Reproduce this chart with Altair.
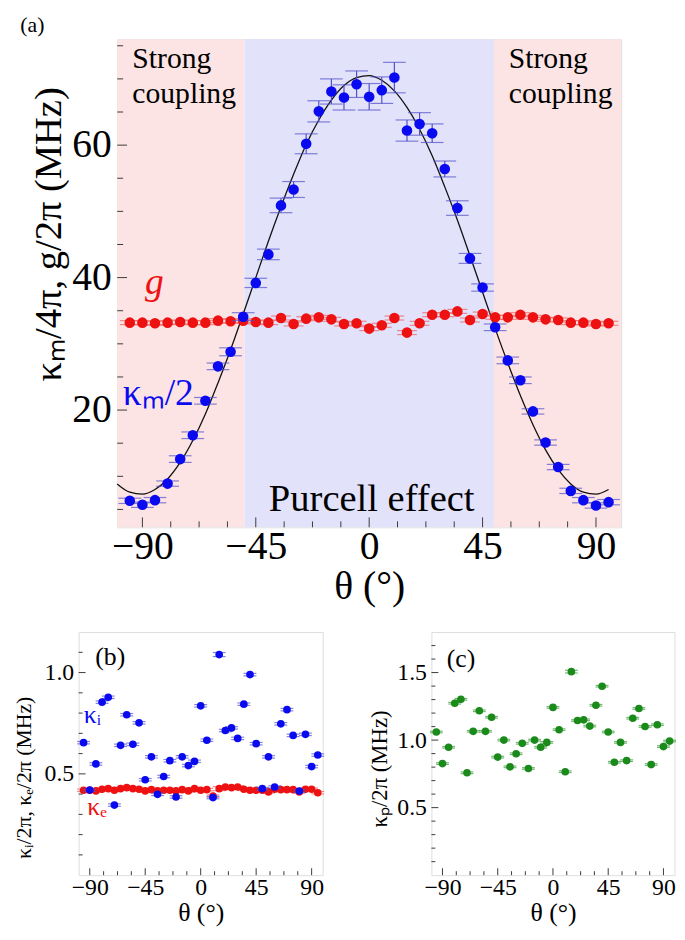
import altair as alt
import pandas as pd

FONT = "Liberation Serif"
FRAME = "#3a3a3a"

# ---------------- panel (a) data ----------------
theta = [-95, -90, -85, -80, -75, -70, -65, -60, -55, -50, -45, -40, -35, -30, -25, -20, -15, -10, -5, 0,
         5, 10, 15, 20, 25, 30, 35, 40, 45, 50, 55, 60, 65, 70, 75, 80, 85, 90, 95]
km_half = [6.3, 5.7, 6.4, 8.9, 12.6, 16.2, 21.4, 26.6, 28.8, 34.1, 39.2, 43.5, 50.9, 53.3, 60.2, 65.1, 68.1, 67.2, 69.2, 67.3,
           68.3, 70.2, 62.2, 63.2, 61.8, 56.4, 50.5, 42.9, 38.5, 32.5, 27.5, 24.5, 19.8, 15.1, 11.4, 7.8, 6.4, 5.6, 6.1]
km_err = [0.4, 0.4, 0.4, 0.4, 0.5, 0.5, 0.5, 0.5, 0.6, 0.6, 0.7, 0.8, 1.1, 1.2, 1.5, 1.6, 1.9, 1.9, 2.0, 2.0,
          2.0, 2.3, 1.6, 1.7, 1.4, 1.2, 1.1, 0.75, 0.55, 0.5, 0.5, 0.5, 0.4, 0.4, 0.4, 0.4, 0.4, 0.4, 0.4]
g_vals = [33.2, 33.2, 33.1, 33.2, 33.3, 33.2, 33.2, 33.5, 33.4, 33.5, 33.3, 33.2, 33.9, 33.0, 33.8, 34.0, 33.7, 33.0, 33.1, 32.3,
          32.8, 33.9, 31.7, 33.1, 34.4, 34.4, 34.9, 33.6, 34.5, 34.0, 34.0, 34.4, 34.0, 33.7, 33.6, 33.2, 33.2, 33.0, 33.1]
g_err = [0.3, 0.3, 0.3, 0.3, 0.3, 0.3, 0.3, 0.3, 0.3, 0.3, 0.3, 0.3, 0.3, 0.3, 0.3, 0.3, 0.3, 0.3, 0.3, 0.3,
         0.3, 0.3, 0.3, 0.3, 0.3, 0.3, 0.3, 0.3, 0.3, 0.3, 0.3, 0.3, 0.3, 0.3, 0.3, 0.3, 0.3, 0.3, 0.3]
fit_theta = [-100, -95, -90, -85, -80, -75, -70, -65, -60, -55, -50, -45, -40, -35, -30, -25, -20, -15, -10, -5,
             0, 5, 10, 15, 20, 25, 30, 35, 40, 45, 50, 55, 60, 65, 70, 75, 80, 85, 90, 95]
fit_vals = [8.85, 7.6, 7.3, 8.0, 9.6, 12.1, 15.4, 19.4, 24.1, 29.1, 34.5, 40.0, 45.5, 50.7, 55.6, 60.1, 63.8, 66.8, 69.0, 70.2,
            70.5, 69.8, 68.2, 65.7, 62.4, 58.4, 53.7, 48.7, 43.3, 37.8, 32.3, 27.1, 22.2, 17.8, 14.0, 11.0, 8.85, 7.6, 7.3, 8.0]
region_start = [-100, -49.5, 49.5]
region_end = [-49.5, 49.5, 100]
region_kind = ["strong", "purcell", "strong"]

# ---------------- panels (b), (c) data ----------------
kappa_i = [0.654, 0.42, 0.549, 0.854, 0.878, 0.346, 0.641, 0.792, 0.646, 0.752, 0.471, 0.584, 0.399, 0.487, 0.565, 0.386, 0.584, 0.541, 0.562, 0.836,
           0.666, 0.383, 1.089, 0.714, 0.727, 0.675, 0.844, 0.990, 0.649, 0.427, 0.584, 0.435, 0.747, 0.817, 0.690, 0.415, 0.695, 0.536, 0.593]
kappa_e = [0.419, 0.419, 0.416, 0.424, 0.427, 0.419, 0.427, 0.432, 0.427, 0.424, 0.416, 0.422, 0.416, 0.419, 0.419, 0.416, 0.422, 0.416, 0.427, 0.419,
           0.422, 0.390, 0.427, 0.435, 0.432, 0.435, 0.424, 0.419, 0.419, 0.419, 0.411, 0.424, 0.422, 0.422, 0.422, 0.411, 0.424, 0.424, 0.407]
kappa_p = [1.06, 0.826, 0.947, 1.273, 1.302, 0.758, 1.065, 1.217, 1.065, 1.169, 0.874, 1.0, 0.802, 0.899, 0.976, 0.79, 1.0, 0.947, 0.983, 1.242,
           1.077, 0.766, 1.507, 1.145, 1.15, 1.104, 1.258, 1.399, 1.06, 0.836, 0.983, 0.848, 1.162, 1.234, 1.101, 0.819, 1.114, 0.952, 0.993]
small_err = [0.006, 0.006, 0.006, 0.006, 0.006, 0.006, 0.006, 0.006, 0.006, 0.006, 0.006, 0.006, 0.006, 0.006, 0.006, 0.006, 0.006, 0.006, 0.006, 0.006,
             0.006, 0.006, 0.01, 0.006, 0.006, 0.006, 0.006, 0.006, 0.006, 0.006, 0.006, 0.006, 0.006, 0.006, 0.006, 0.006, 0.006, 0.006, 0.006]

# ---------------- ticks ----------------
x_labels = [-90, -45, 0, 45, 90]
x_minor = [-78.75, -67.5, -56.25, -33.75, -22.5, -11.25, 11.25, 22.5, 33.75, 56.25, 67.5, 78.75]
a_y_labels = [20, 40, 60]
a_y_minor = [5, 10, 15, 25, 30, 35, 45, 50, 55, 65, 70, 75]
b_y_labels = [0.5, 1.0]
b_y_minor = [0.1, 0.2, 0.3, 0.4, 0.6, 0.7, 0.8, 0.9, 1.1]
c_y_labels = [0.5, 1.0, 1.5]
c_y_minor = [0.1, 0.2, 0.3, 0.4, 0.6, 0.7, 0.8, 0.9, 1.1, 1.2, 1.3, 1.4, 1.6, 1.7]


def enc_x(dom, lab_size, title_size, lpad, tpad):
    return alt.X("x:Q", scale=alt.Scale(domain=dom, nice=False, zero=False),
                 axis=alt.Axis(values=x_labels, title="θ (°)", ticks=False, domain=False, grid=False,
                               labelFont=FONT, titleFont=FONT, labelFontSize=lab_size, titleFontSize=title_size,
                               labelColor="black", titleColor="black", titleFontWeight="normal",
                               labelPadding=lpad, titlePadding=tpad, labelFlush=False))


def enc_y(dom, labels, title, lab_size, title_size, fmt, lpad, tpad, ty):
    return alt.Y("y:Q", scale=alt.Scale(domain=dom, nice=False, zero=False),
                 axis=alt.Axis(values=labels, title=title, ticks=False, domain=False, grid=False, format=fmt,
                               labelFont=FONT, titleFont=FONT, labelFontSize=lab_size, titleFontSize=title_size,
                               labelColor="black", titleColor="black", titleFontWeight="normal",
                               labelPadding=lpad, titlePadding=tpad, labelFlush=False, titleY=ty))


def tick_layers(X, Y, H, xmaj, xmin, ymaj, ymin, Lmaj, Lmin):
    layers = []
    for vals, L in ((xmaj, Lmaj), (xmin, Lmin)):
        layers.append(alt.Chart(pd.DataFrame({"x": vals})).mark_rule(color=FRAME, strokeWidth=1).encode(
            x=X, y=alt.value(H), y2=alt.value(H - L)))
    for vals, L in ((ymaj, Lmaj), (ymin, Lmin)):
        layers.append(alt.Chart(pd.DataFrame({"y": vals})).mark_rule(color=FRAME, strokeWidth=1).encode(
            y=Y, x=alt.value(0), x2=alt.value(L)))
    return layers


def errbars(df, X, Y, color, cap, width=1.2):
    lo = df.assign(y=df["v"] - df["e"], y2=df["v"] + df["e"])
    bar = alt.Chart(lo).mark_rule(color=color, strokeWidth=width).encode(x=X, y=Y, y2="y2:Q")
    cap_lo = alt.Chart(lo).mark_tick(color=color, orient="horizontal", size=cap, thickness=width).encode(x=X, y=Y)
    cap_hi = alt.Chart(lo.assign(y=lo["y2"])).mark_tick(color=color, orient="horizontal", size=cap,
                                                        thickness=width).encode(x=X, y=Y)
    return [bar, cap_lo, cap_hi]


def txt(X, Y, x, y, s, size, color="black", align="left", style="normal", baseline="middle", lh=35):
    return alt.Chart(pd.DataFrame({"x": [x], "y": [y], "t": [s]})).mark_text(
        font=FONT, fontSize=size, color=color, align=align, baseline=baseline, fontStyle=style,
        lineBreak="\n", lineHeight=lh).encode(x=X, y=Y, text="t:N")


def label_px(s, px, py, size):
    return alt.Chart(pd.DataFrame({"t": [s]})).mark_text(
        font=FONT, fontSize=size, color="black", align="left", baseline="middle").encode(
        x=alt.value(px), y=alt.value(py), text="t:N")


def spacer(px, py):
    # white 1px rule used only to fix the layout extent of a panel
    return alt.Chart(pd.DataFrame({"t": [0]})).mark_rule(color="white", strokeWidth=1).encode(
        x=alt.value(px), x2=alt.value(px), y=alt.value(py), y2=alt.value(py + 1))


# ---------------- panel (a) ----------------
WA, HA = 510, 494
XA = enc_x([-100, 100], 40, 40, 0, 0)
YA = enc_y([2.3, 76], a_y_labels, "κₘ/4π, g/2π (MHz)", 40, 39, "d", 6, 3, 197)

reg = alt.Chart(pd.DataFrame({"x": region_start, "x2": region_end, "k": region_kind})).mark_rect(opacity=1).encode(
    x=XA, x2="x2:Q", y=alt.value(0), y2=alt.value(HA),
    color=alt.Color("k:N", scale=alt.Scale(domain=["strong", "purcell"], range=["#fde4e4", "#e2e2fa"]), legend=None))
fit = alt.Chart(pd.DataFrame({"x": fit_theta, "y": fit_vals})).mark_line(
    color="#111111", strokeWidth=1.3, interpolate="monotone").encode(x=XA, y=YA)
km_df = pd.DataFrame({"x": theta, "v": km_half, "e": km_err})
g_df = pd.DataFrame({"x": theta, "v": g_vals, "e": g_err})
km_pts = alt.Chart(km_df.assign(y=km_df["v"])).mark_circle(size=115, color="#0a0af0", opacity=1).encode(x=XA, y=YA)
g_pts = alt.Chart(g_df.assign(y=g_df["v"])).mark_circle(size=115, color="#ee1111", opacity=1).encode(x=XA, y=YA)

a_layers = [reg, fit] + errbars(g_df, XA, YA, "#e86060", 20) + [g_pts] + errbars(km_df, XA, YA, "#5050c8", 23) + [km_pts]
a_layers += [
    txt(XA, YA, -94, 75.2, "Strong\ncoupling", 30, baseline="top"),
    txt(XA, YA, 55.4, 75.2, "Strong\ncoupling", 30, baseline="top"),
    txt(XA, YA, 1, 4.7, "Purcell effect", 39, align="center", baseline="alphabetic"),
    txt(XA, YA, -89, 37.6, "g", 38, color="#ee1111", style="italic", baseline="alphabetic"),
    txt(XA, YA, -97.8, 20.7, "κₘ/2", 38, color="#0a0af0", baseline="alphabetic"),
    label_px("(a)", -98, -14, 22),
    spacer(526, HA / 2),
]
a_layers += tick_layers(XA, YA, HA, x_labels, x_minor, a_y_labels, a_y_minor, 10, 6)
panel_a = alt.layer(*a_layers).properties(width=WA, height=HA)

# ---------------- panel (b) ----------------
WB, HB, WC = 247, 246, 246
XB = enc_x([-99, 99], 24, 26, 1, 0)
YB = enc_y([0, 1.2], b_y_labels, "κᵢ/2π, κₑ/2π (MHz)", 24, 22, ".1f", 5, 9, 147)
ki_df = pd.DataFrame({"x": theta, "v": kappa_i, "e": small_err})
ke_df = pd.DataFrame({"x": theta, "v": kappa_e, "e": small_err})
b_layers = errbars(ke_df, XB, YB, "#e86060", 13) + [
    alt.Chart(ke_df.assign(y=ke_df["v"])).mark_circle(size=60, color="#ee1111", opacity=1).encode(x=XB, y=YB)]
b_layers += errbars(ki_df, XB, YB, "#5050c8", 13) + [
    alt.Chart(ki_df.assign(y=ki_df["v"])).mark_circle(size=60, color="#0a0af0", opacity=1).encode(x=XB, y=YB)]
b_layers += [
    txt(XB, YB, -73.4, 1.078, "(b)", 26, align="center"),
    txt(XB, YB, -94.8, 0.79, "κᵢ", 26, color="#0a0af0"),
    txt(XB, YB, -92, 0.338, "κₑ", 26, color="#ee1111"),
    spacer(-70, HB / 2),
]
b_layers += tick_layers(XB, YB, HB, x_labels, x_minor, b_y_labels, b_y_minor, 7, 4)
panel_b = alt.layer(*b_layers).properties(width=WB, height=HB)

# ---------------- panel (c) ----------------
XC = enc_x([-99, 99], 24, 26, 1, 0)
YC = enc_y([0, 1.8], c_y_labels, "κₚ/2π (MHz)", 24, 23, ".1f", 5, 5, 138)
kp_df = pd.DataFrame({"x": theta, "v": kappa_p, "e": small_err})
c_layers = errbars(kp_df, XC, YC, "#3a9a3a", 13) + [
    alt.Chart(kp_df.assign(y=kp_df["v"])).mark_circle(size=60, color="#1a8a1a", opacity=1).encode(x=XC, y=YC)]
c_layers += [txt(XC, YC, -74.9, 1.597, "(c)", 26, align="center"), spacer(-64, HB / 2)]
c_layers += tick_layers(XC, YC, HB, x_labels, x_minor, c_y_labels, c_y_minor, 7, 4)
panel_c = alt.layer(*c_layers).properties(width=WC, height=HB)

bottom = alt.hconcat(panel_b, panel_c, spacing=42)
chart = alt.vconcat(panel_a, bottom, spacing=24, center=True).properties(
    padding={"left": 0, "top": 0, "right": 0, "bottom": 0}
).configure_view(stroke=FRAME, strokeWidth=1.5).configure_axis(
    labelFont=FONT, titleFont=FONT).configure_text(font=FONT).configure(background="white", font=FONT)

chart.save("out.html", embed_options={"renderer": "svg", "actions": False})
